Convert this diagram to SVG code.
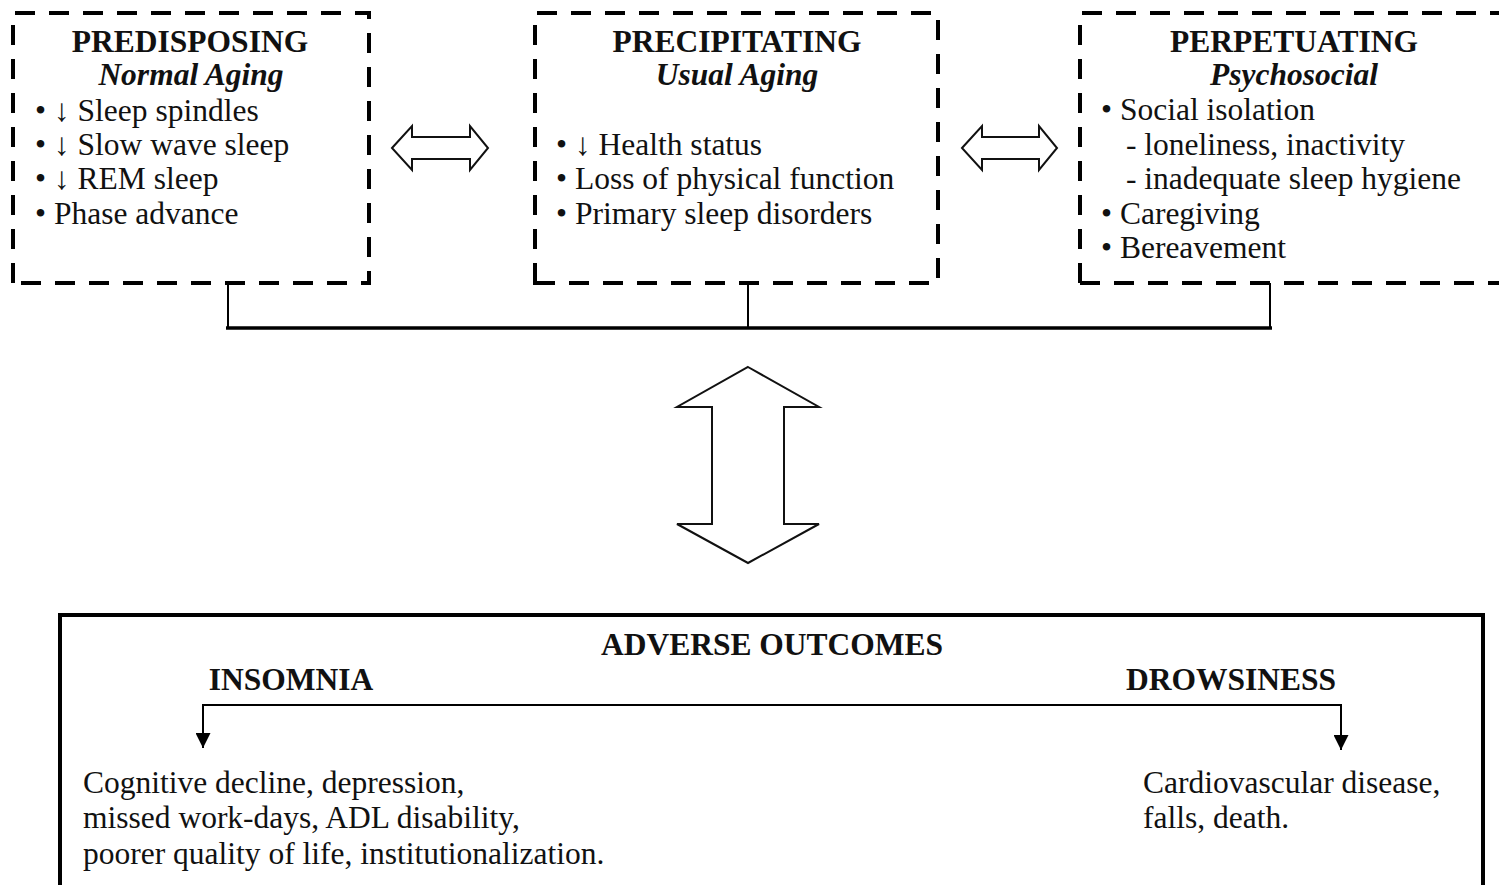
<svg xmlns="http://www.w3.org/2000/svg" width="1499" height="885" viewBox="0 0 1499 885">
<style>
.dash{fill:none;stroke:#000;stroke-width:4;stroke-dasharray:20 14}
.t{font-family:"Liberation Serif","Times New Roman",serif;font-size:31.5px;fill:#111}
.b{font-weight:bold}
.i{font-style:italic;font-weight:bold}
.m{text-anchor:middle}
.ln{fill:none;stroke:#000}
.arr{fill:#fff;stroke:#111;stroke-width:2;stroke-linejoin:miter}
</style>
<defs>
<marker id="ah" viewBox="0 0 10 10" refX="10" refY="5" markerWidth="15" markerHeight="15" markerUnits="userSpaceOnUse" orient="auto">
<path d="M0,0 L10,5 L0,10 Z" fill="#000"/>
</marker>
</defs>
<rect width="1499" height="885" fill="#fff"/>
<g id="connectors">
<path class="ln" stroke-width="2" d="M228,283 V328 M748,283 V328 M1270,283 V328"/>
<path class="ln" stroke-width="3.5" d="M226,328 H1272"/>
<polygon id="arrow-h1" class="arr" points="392,148 412,126 412,137 470,137 470,126 488,148 470,170 470,159 412,159 412,170"/>
<polygon id="arrow-h2" class="arr" points="962,148 982,126 982,137 1039,137 1039,126 1057,148 1039,170 1039,159 982,159 982,170"/>
<polygon id="arrow-v" class="arr" points="748,367 819,407 784,407 784,524 819,524 748,563 677,524 712,524 712,407 677,407"/>
</g>
<g id="predisposing">
<path class="dash" d="M13,283 V13 H369 V283 Z"/>
<text class="t b m" x="190" y="52">PREDISPOSING</text>
<text class="t i m" x="191" y="85">Normal Aging</text>
<text class="t" x="35" y="121">• ↓ Sleep spindles</text>
<text class="t" x="35" y="155">• ↓ Slow wave sleep</text>
<text class="t" x="35" y="189">• ↓ REM sleep</text>
<text class="t" x="35" y="224">• Phase advance</text>
</g>
<g id="precipitating">
<path class="dash" d="M535,283 V13 H938 V283 Z"/>
<text class="t b m" x="737" y="52">PRECIPITATING</text>
<text class="t i m" x="737" y="85">Usual Aging</text>
<text class="t" x="556" y="155">• ↓ Health status</text>
<text class="t" x="556" y="189">• Loss of physical function</text>
<text class="t" x="556" y="224">• Primary sleep disorders</text>
</g>
<g id="perpetuating">
<path class="dash" d="M1080,283 V13 H1510 M1080,283 H1510"/>
<text class="t b m" x="1294" y="52">PERPETUATING</text>
<text class="t i m" x="1294" y="85">Psychosocial</text>
<text class="t" x="1101" y="120">• Social isolation</text>
<text class="t" x="1126" y="155">- loneliness, inactivity</text>
<text class="t" x="1126" y="189">- inadequate sleep hygiene</text>
<text class="t" x="1101" y="224">• Caregiving</text>
<text class="t" x="1101" y="258">• Bereavement</text>
</g>
<g id="adverse-outcomes">
<rect x="60" y="615" width="1423" height="300" fill="none" stroke="#000" stroke-width="4"/>
<text class="t b m" x="772" y="655">ADVERSE OUTCOMES</text>
<text class="t b m" x="291" y="690">INSOMNIA</text>
<text class="t b m" x="1231" y="690">DROWSINESS</text>
<g id="outcome-arrows">
<path class="ln" stroke-width="2" d="M203,705 H1341"/>
<path class="ln" stroke-width="2" d="M203,704 V748" marker-end="url(#ah)"/>
<path class="ln" stroke-width="2" d="M1341,704 V750" marker-end="url(#ah)"/>
</g>
<text class="t" x="83" y="793">Cognitive decline, depression,</text>
<text class="t" x="83" y="828">missed work-days, ADL disability,</text>
<text class="t" x="83" y="864">poorer quality of life, institutionalization.</text>
<text class="t" x="1143" y="793">Cardiovascular disease,</text>
<text class="t" x="1143" y="828">falls, death.</text>
</g>
</svg>
